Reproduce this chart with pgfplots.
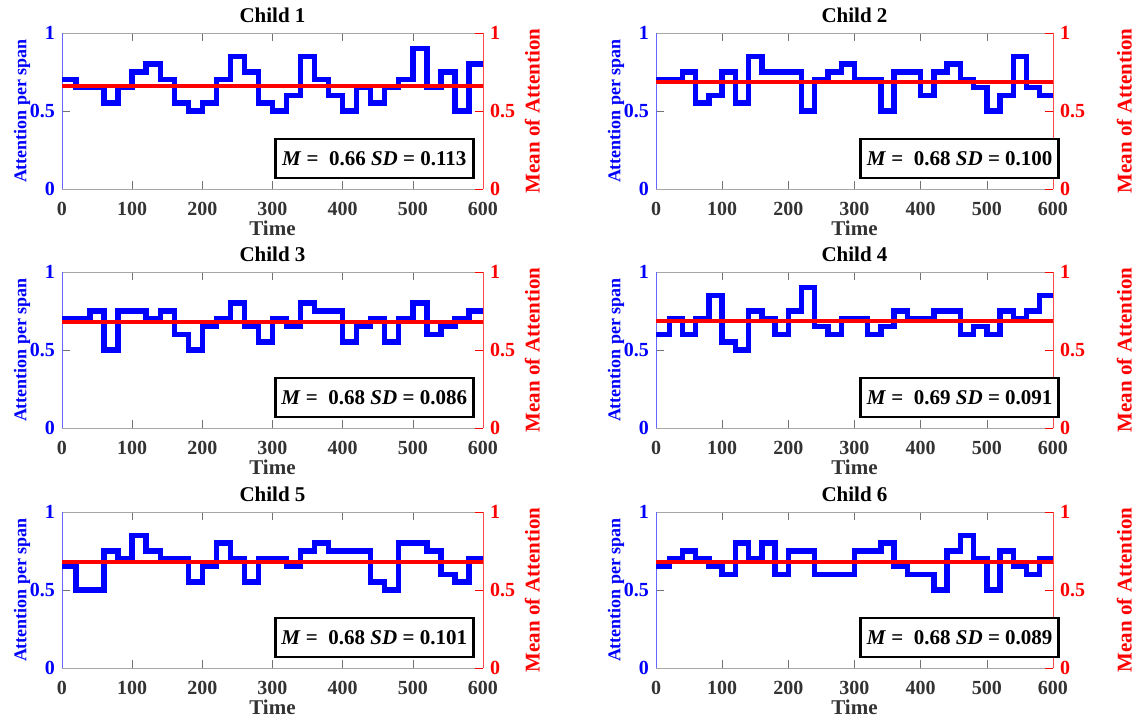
\documentclass[border=0pt]{standalone}
\usepackage{fontspec}
\setmainfont{Liberation Serif}
\usepackage{pgfplots}
\usepackage{pgfplotstable}
\pgfplotsset{compat=1.18}

% attention per 20 s span, one column per child (last row repeats the final step)
\pgfplotstableread{
t   c1   c2   c3   c4   c5   c6
0   0.70 0.70 0.70 0.60 0.65 0.65
20  0.65 0.70 0.70 0.70 0.50 0.70
40  0.65 0.75 0.75 0.60 0.50 0.75
60  0.55 0.55 0.50 0.70 0.75 0.70
80  0.65 0.60 0.75 0.85 0.70 0.65
100 0.75 0.75 0.75 0.55 0.85 0.60
120 0.80 0.55 0.70 0.50 0.75 0.80
140 0.70 0.85 0.75 0.75 0.70 0.70
160 0.55 0.75 0.60 0.70 0.70 0.80
180 0.50 0.75 0.50 0.60 0.55 0.60
200 0.55 0.75 0.65 0.75 0.65 0.75
220 0.70 0.50 0.70 0.90 0.80 0.75
240 0.85 0.70 0.80 0.65 0.70 0.60
260 0.75 0.75 0.65 0.60 0.55 0.60
280 0.55 0.80 0.55 0.70 0.70 0.60
300 0.50 0.70 0.70 0.70 0.70 0.75
320 0.60 0.70 0.65 0.60 0.65 0.75
340 0.85 0.50 0.80 0.65 0.75 0.80
360 0.70 0.75 0.75 0.75 0.80 0.65
380 0.60 0.75 0.75 0.70 0.75 0.60
400 0.50 0.60 0.55 0.70 0.75 0.60
420 0.65 0.75 0.65 0.75 0.75 0.50
440 0.55 0.80 0.70 0.75 0.55 0.75
460 0.65 0.70 0.55 0.60 0.50 0.85
480 0.70 0.65 0.70 0.65 0.80 0.70
500 0.90 0.50 0.80 0.60 0.80 0.50
520 0.65 0.60 0.60 0.75 0.75 0.75
540 0.75 0.85 0.65 0.70 0.60 0.65
560 0.50 0.65 0.70 0.75 0.55 0.60
580 0.80 0.60 0.75 0.85 0.70 0.70
600 0.80 0.60 0.75 0.85 0.70 0.70
}\attn

\newcommand\fnt[1]{\fontsize{#1}{#1}\selectfont\bfseries}

\pgfplotsset{
  leftax/.style={
    scale only axis, height=78pt, anchor=south west,
    xmin=0, xmax=600, ymin=0, ymax=1,
    xtick={0,100,...,600}, ytick={0,0.5,1},
    tick align=inside, ytick pos=left, major tick length=4pt,
    separate axis lines,
    x axis line style={black!35}, y axis line style={blue!60},
    tick style={black!55},
    /pgf/number format/assume math mode=true,
    xticklabel style={black!80, font=\fnt{10}, yshift=-3pt},
    yticklabel style={blue, font=\fnt{10}},
    xlabel={Time}, xlabel style={black!80, font=\fnt{10.5}, yshift=4pt},
    ylabel={Attention per span}, ylabel style={blue, font=\fnt{9}, yshift=-7pt},
    title style={font=\fnt{10.5}, yshift=-4.5pt},
  },
  rightax/.style={
    scale only axis, height=78pt, anchor=south west,
    xmin=0, xmax=600, ymin=0, ymax=1,
    axis y line*=right, axis x line=none,
    ytick={0,0.5,1}, tick align=inside, major tick length=4pt,
    y axis line style={red!70}, tick style={red},
    /pgf/number format/assume math mode=true,
    yticklabel style={red, font=\fnt{10}},
    ylabel={Mean of Attention}, ylabel style={red, font=\fnt{10.5}},
    clip=false,
  },
}

% #1,#2 lower left corner, #3 width, #4 child, #5 mean, #6 M text, #7 SD text,
% #8 shift of the right label, #9 box x
\newcommand\panel[9]{
  \begin{axis}[leftax, at={(#1,#2)}, width=#3, title={Child #4}]
    \addplot[const plot, blue, line width=2.7pt] table[x=t, y=c#4] {\attn};
  \end{axis}
  \begin{axis}[rightax, at={(#1,#2)}, width=#3, ylabel style={yshift=#8}]
    \addplot[red, line width=2pt] coordinates {(0,#5) (600,#5)};
    \node[draw=black, line width=1.4pt, fill=white, minimum width=99pt,
          minimum height=19.5pt, inner sep=2pt, font=\fnt{10.5}]
      at (axis cs:#9,0.195) {\textit{M} =\ \ #6 \textit{SD} = #7};
  \end{axis}
}

\begin{document}
\begin{tikzpicture}
\useasboundingbox (0,0) rectangle (568.5pt,361pt);
\panel{31pt}{266.5pt}{210.5pt}{1}{0.660}{0.66}{0.113}{2pt}{445}
\panel{328pt}{266.5pt}{198.5pt}{2}{0.685}{0.68}{0.100}{-9pt}{459}
\panel{31pt}{147pt}{210.5pt}{3}{0.678}{0.68}{0.086}{2pt}{445}
\panel{328pt}{147pt}{198.5pt}{4}{0.688}{0.69}{0.091}{-9pt}{459}
\panel{31pt}{27pt}{210.5pt}{5}{0.682}{0.68}{0.101}{2pt}{445}
\panel{328pt}{27pt}{198.5pt}{6}{0.680}{0.68}{0.089}{-9pt}{459}
\end{tikzpicture}
\end{document}
